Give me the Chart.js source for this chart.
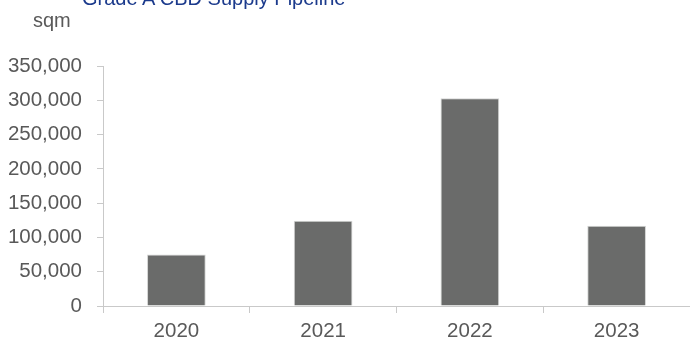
<!DOCTYPE html>
<html>
<head>
<meta charset="utf-8">
<script src="https://cdn.jsdelivr.net/npm/chart.js@4.4.0/dist/chart.umd.min.js"></script>
<style>
  html, body { margin: 0; padding: 0; background: #fff; overflow: hidden; }
  #wrap { position: relative; width: 690px; height: 345px; }
  #title {
    position: absolute; left: 82px; top: -12px;
    font: 20px "Liberation Sans", Arial, sans-serif; line-height: 20px;
    color: #1b3a8c; white-space: nowrap;
  }
  #unit {
    position: absolute; left: 33px; top: 10px;
    font: 20px "Liberation Sans", Arial, sans-serif; line-height: 20px;
    color: #595959;
  }
</style>
</head>
<body>
<div id="wrap">
  <canvas id="supplyChart" width="690" height="345"></canvas>
  <div id="title">Grade A CBD Supply Pipeline</div>
  <div id="unit">sqm</div>
</div>
<script>
const years = ["2020", "2021", "2022", "2023"];
const supply = [75000, 124500, 303000, 117000];
const yTicks = [0, 50000, 100000, 150000, 200000, 250000, 300000, 350000];

const axisGrey = "#c9c9c9";
const textGrey = "#595959";
const font = { family: "'Liberation Sans', Arial, sans-serif", size: 20.5 };

const ctx = document.getElementById("supplyChart").getContext("2d");
const chart = new Chart(ctx, {
  type: "bar",
  data: {
    labels: years,
    datasets: [{
      data: supply,
      backgroundColor: "#6a6b6a",
      borderColor: "#d4d5d4",
      borderWidth: 1,
      barPercentage: 0.4,
      categoryPercentage: 1
    }]
  },
  options: {
    responsive: false,
    animation: false,
    layout: { padding: { top: 66, right: 0, left: 0, bottom: 0 } },
    plugins: {
      legend: { display: false },
      tooltip: { enabled: false }
    },
    scales: {
      x: {
        offset: true,
        grid: { display: true, drawOnChartArea: false, offset: true, tickLength: 7, color: axisGrey },
        border: { color: axisGrey },
        ticks: { color: textGrey, font, padding: 6, maxRotation: 0 },
        afterFit: s => { s.height = 39; }
      },
      y: {
        min: 0,
        max: 350000,
        afterBuildTicks: s => { s.ticks = yTicks.map(v => ({ value: v })); },
        grid: { display: true, drawOnChartArea: false, tickLength: 6, color: axisGrey },
        border: { color: axisGrey },
        ticks: {
          color: textGrey, font, padding: 15,
          callback: v => v.toLocaleString("en-US")
        },
        afterFit: s => { s.width = 103; }
      }
    }
  }
});
</script>
</body>
</html>
